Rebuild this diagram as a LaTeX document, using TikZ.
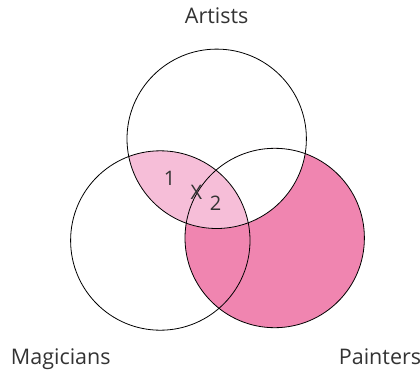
\documentclass[tikz,border=0pt]{standalone}
\usepackage{fontspec}
\setmainfont{Open Sans}
\usetikzlibrary{positioning}
\definecolor{darkpink}{RGB}{240,133,176}
\definecolor{lightpink}{RGB}{246,190,216}
\definecolor{textgray}{RGB}{51,51,51}

\begin{document}
\begin{tikzpicture}[x=1pt, y=-1pt,
    set/.style={draw=black, line width=0.8pt},
    setlabel/.style={text=textgray, anchor=base, font=\fontsize{21.5}{25}\selectfont},
    marklabel/.style={text=textgray, anchor=base, inner sep=0pt, font=\fontsize{20}{24}\selectfont}]
   \useasboundingbox (0,0) rectangle (420,372);
   \def\r{89.7}
   % 三个集合的圆心
   \coordinate (A) at (216.7,138.8);
   \coordinate (M) at (160.3,240.5);
   \coordinate (P) at (274.7,238);

   % 着色区域
   \fill[darkpink] (P) circle (\r);
   \begin{scope}
      \clip (A) circle (\r);
      \fill[white] (P) circle (\r);
   \end{scope}
   \begin{scope}
      \clip (M) circle (\r);
      \fill[lightpink] (A) circle (\r);
   \end{scope}

   % 圆的轮廓
   \draw[set] (A) circle (\r);
   \draw[set] (M) circle (\r);
   \draw[set] (P) circle (\r);

   % 集合名称
   \node[setlabel] (artists) at (216.7,23.3) {Artists};
   \node[setlabel] (magicians) at (60.8,364.3) {Magicians};
   \node[setlabel] (painters) at (380,364.3) {Painters};

   % 区域内的标记
   \node[marklabel] (one) at (169.7,185) {1};
   \node[marklabel] (cross) at (196.3,199.3) {X};
   \node[marklabel] (two) at (215.7,210) {2};
\end{tikzpicture}
\end{document}
